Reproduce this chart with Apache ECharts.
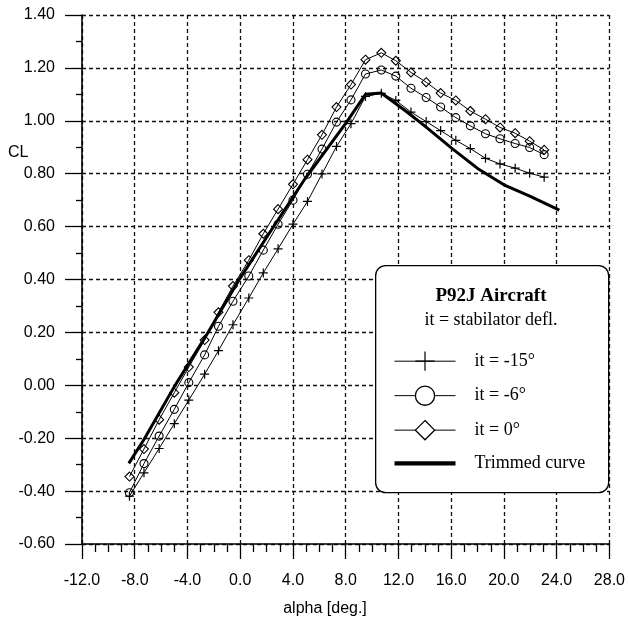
<!DOCTYPE html>
<html>
<head>
<meta charset="utf-8">
<script src="https://cdn.jsdelivr.net/npm/echarts@6/dist/echarts.min.js"></script>
<style>
  html, body { margin: 0; padding: 0; background: #fff; }
  #chart { width: 628px; height: 620px; }
</style>
</head>
<body>
<div id="chart"></div>
<script>
// Angle of attack (deg) at which the three stabilator settings were measured
const alphaDeg = [-8.4, -7.3, -6.15, -5.0, -3.9, -2.7, -1.65, -0.55, 0.65, 1.75, 2.87,
  4.0, 5.1, 6.2, 7.3, 8.4, 9.5, 10.7, 11.8, 12.95, 14.1, 15.2, 16.35, 17.45, 18.6,
  19.7, 20.85, 21.95, 23.05];

// Lift coefficient for each stabilator deflection
const clIt15 = [-0.419, -0.331, -0.239, -0.145, -0.056, 0.042, 0.131, 0.229, 0.330, 0.425, 0.516,
  0.609, 0.695, 0.799, 0.903, 0.989, 1.092, 1.104, 1.077, 1.033, 0.997, 0.963, 0.926, 0.895, 0.858,
  0.837, 0.821, 0.802, 0.787];
const clIt6 = [-0.406, -0.296, -0.192, -0.091, 0.010, 0.115, 0.223, 0.318, 0.413, 0.511, 0.609,
  0.700, 0.798, 0.893, 0.995, 1.079, 1.177, 1.192, 1.169, 1.123, 1.088, 1.052, 1.012, 0.981, 0.951,
  0.932, 0.914, 0.899, 0.872];
const clIt0 = [-0.345, -0.241, -0.130, -0.028, 0.069, 0.171, 0.276, 0.375, 0.473, 0.573, 0.666,
  0.760, 0.853, 0.947, 1.052, 1.137, 1.231, 1.257, 1.227, 1.183, 1.146, 1.105, 1.077, 1.037, 1.006,
  0.975, 0.953, 0.923, 0.890];

// Trimmed lift curve
const trimAlpha = [-8.45, -7.3, -5.0, -2.5, -0.2, 2.4, 4.9, 8.0, 9.5, 10.7, 12.6, 14.1, 16.1, 18.0, 20.0, 22.0, 24.2];
const trimCL = [-0.295, -0.205, -0.005, 0.195, 0.39, 0.59, 0.78, 0.99, 1.10, 1.105, 1.035, 0.976, 0.894, 0.82, 0.758, 0.714, 0.662];

// Legend labels and heading
const seriesNames = ['it = -15°', 'it = -6°', 'it = 0°', 'Trimmed curve'];
const legendTitle = 'P92J Aircraft';
const legendSubtitle = 'it = stabilator defl.';

// Axis ranges
const xRange = { min: -12, max: 28, step: 4 };
const yRange = { min: -0.6, max: 1.4, step: 0.2 };

const pair = (xs, ys) => xs.map((x, i) => [x, ys[i]]);

const sansFont = '"Liberation Sans", Arial, Helvetica, sans-serif';
const serifFont = '"Liberation Serif", "Times New Roman", Times, serif';
const plusPath = 'path://M5,0 L5,10 M0,5 L10,5';

const gridLine = { show: true, lineStyle: { color: '#111', width: 1.3, type: [4, 3] } };

const chart = echarts.init(document.getElementById('chart'), null, { renderer: 'canvas' });

chart.setOption({
  backgroundColor: '#fff',
  animation: false,
  grid: { left: 82, right: 16, top: 15, bottom: 76, containLabel: false },
  xAxis: {
    type: 'value',
    min: xRange.min, max: xRange.max, interval: xRange.step,
    axisLine: { onZero: false, lineStyle: { color: '#000', width: 1.6 } },
    axisTick: { show: true, length: 15, lineStyle: { color: '#000', width: 1.3 } },
    minorTick: { show: true, splitNumber: 4, length: 8, lineStyle: { color: '#000', width: 1.3 } },
    axisLabel: { margin: 29, color: '#000', fontFamily: sansFont, fontSize: 16,
      formatter: v => v.toFixed(1) },
    splitLine: gridLine
  },
  yAxis: {
    type: 'value',
    min: yRange.min, max: yRange.max, interval: yRange.step,
    axisLine: { onZero: false, lineStyle: { color: '#000', width: 1.6 } },
    axisTick: { show: true, length: 17, lineStyle: { color: '#000', width: 1.3 } },
    minorTick: { show: true, splitNumber: 2, length: 6, lineStyle: { color: '#000', width: 1.3 } },
    axisLabel: { margin: 27, color: '#000', fontFamily: sansFont, fontSize: 16,
      formatter: v => v.toFixed(2) },
    splitLine: gridLine
  },
  legend: {
    orient: 'vertical',
    left: 394, top: 351,
    padding: 0,
    z: 20,
    itemWidth: 61, itemHeight: 24, itemGap: 14,
    textStyle: { fontFamily: serifFont, fontSize: 18, color: '#000', padding: [0, 0, 0, 14] },
    data: [
      { name: seriesNames[0], itemStyle: { color: '#000', borderColor: '#000', borderWidth: 1.2 },
        lineStyle: { color: '#000', width: 1 } },
      { name: seriesNames[1], itemStyle: { color: '#fff', borderColor: '#000', borderWidth: 1.3 },
        lineStyle: { color: '#000', width: 1 } },
      { name: seriesNames[2], itemStyle: { color: '#fff', borderColor: '#000', borderWidth: 1.3 },
        lineStyle: { color: '#000', width: 1 } },
      { name: seriesNames[3], icon: 'path://M0,0 H60 V4 H0 Z', itemStyle: { color: '#000' } }
    ],
    selectedMode: false
  },
  graphic: {
    z: 1,
    elements: [
      { type: 'rect', left: 375, top: 265, z: 1,
        shape: { width: 233, height: 227, r: 10 },
        style: { fill: '#fff', stroke: '#000', lineWidth: 1.3 } },
      { type: 'text', x: 491, y: 296, z: 2,
        style: { text: legendTitle, font: 'bold 19px ' + serifFont, fill: '#000',
          textAlign: 'center', textVerticalAlign: 'middle' } },
      { type: 'text', x: 491, y: 320, z: 2,
        style: { text: legendSubtitle, font: '18px ' + serifFont, fill: '#000',
          textAlign: 'center', textVerticalAlign: 'middle' } },
      { type: 'text', x: 8, y: 153, z: 2,
        style: { text: 'CL', font: '16px ' + sansFont, fill: '#000',
          textAlign: 'left', textVerticalAlign: 'middle' } },
      { type: 'text', x: 325, y: 609, z: 2,
        style: { text: 'alpha [deg.]', font: '16px ' + sansFont, fill: '#000',
          textAlign: 'center', textVerticalAlign: 'middle' } }
    ]
  },
  series: [
    {
      name: seriesNames[0], type: 'line', data: pair(alphaDeg, clIt15),
      symbol: plusPath, symbolSize: 9, showSymbol: true,
      lineStyle: { color: '#000', width: 1 },
      itemStyle: { color: '#000', borderColor: '#000', borderWidth: 1.2 },
      z: 3
    },
    {
      name: seriesNames[1], type: 'line', data: pair(alphaDeg, clIt6),
      symbol: 'circle', symbolSize: 8,
      lineStyle: { color: '#000', width: 1 },
      itemStyle: { color: 'rgba(0,0,0,0)', borderColor: '#000', borderWidth: 1.1 },
      z: 3
    },
    {
      name: seriesNames[2], type: 'line', data: pair(alphaDeg, clIt0),
      symbol: 'diamond', symbolSize: 9,
      lineStyle: { color: '#000', width: 1 },
      itemStyle: { color: 'rgba(0,0,0,0)', borderColor: '#000', borderWidth: 1.1 },
      z: 3
    },
    {
      name: seriesNames[3], type: 'line', data: pair(trimAlpha, trimCL),
      symbol: 'none', showSymbol: false,
      lineStyle: { color: '#000', width: 3 },
      itemStyle: { color: '#000' },
      z: 4
    }
  ]
});
</script>
</body>
</html>
